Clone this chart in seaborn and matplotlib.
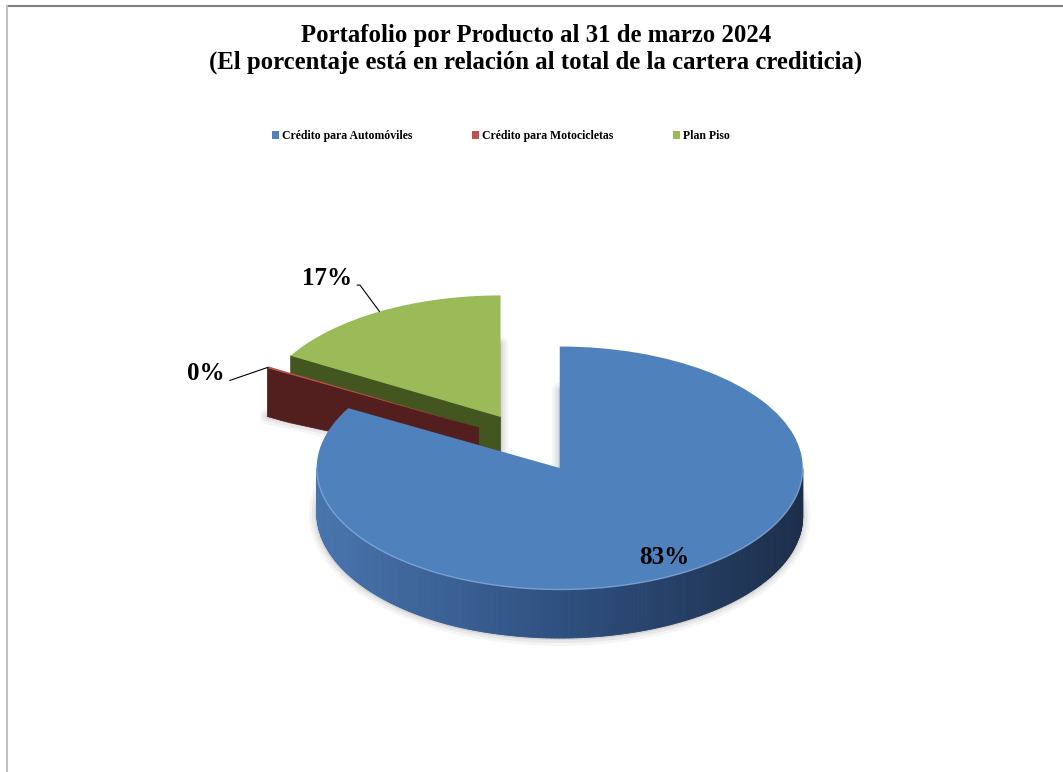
import numpy as np
import matplotlib.pyplot as plt
from matplotlib.patches import Polygon, Patch
from matplotlib.lines import Line2D
import seaborn as sns

# Data
categorias = ['Crédito para Automóviles', 'Crédito para Motocicletas', 'Plan Piso']
porcentajes = [83.2, 0.2, 16.6]
etiquetas = ['83%', '0%', '17%']

# Styles
colores_top = ['#4F81BD', '#C0504D', '#9BBB59']
colores_lado = ['#2E4D75', '#521E1E', '#44561F']
gradiente_lado = [['#4874AD', '#2F5080', '#1C2E4A'],
                  ['#7A2A28', '#5A2020', '#3E1414'],
                  ['#61792F', '#4A5D22', '#323F16']]

sns.set_theme(style='white')
plt.rcParams['font.family'] = ['Liberation Serif', 'DejaVu Serif']
plt.rcParams['font.weight'] = 'bold'
plt.rcParams['text.color'] = 'black'

W, H = 1063, 772
fig = plt.figure(figsize=(W / 100, H / 100), dpi=100)
fig.patch.set_facecolor('white')

# pie axes over the whole figure; 1 unit = 243 px across, 121.5 px down (tilted view)
ax = fig.add_axes([0, 0, 1, 1])
cx_px, cy_px = 530, 442.5
sx, sy = 243.0, 121.5

wedges, _ = ax.pie(porcentajes, colors=colores_top, startangle=90, counterclock=False,
                   explode=[0.243] * len(porcentajes), radius=1,
                   wedgeprops=dict(linewidth=0))
ax.set_aspect('auto')
ax.set_xlim(-cx_px / sx, (W - cx_px) / sx)
ax.set_ylim(-(H - cy_px) / sy, cy_px / sy)
ax.axis('off')


def prof(x, y):
    # slab thickness: thinner near the middle, thicker at the rim (perspective look)
    d = np.clip(np.hypot(x, y) / 1.15, 0, 1)
    return 0.27 + 0.13 * d


def arco(c, r, a0, a1, n=120):
    a = np.radians(np.linspace(a0, a1, max(n, 2)))
    return c[0] + r * np.cos(a), c[1] + r * np.sin(a)


def tramos_visibles(t1, t2):
    out = []
    for k in range(-2, 3):
        a, b = max(t1, 180 + 360 * k), min(t2, 360 + 360 * k)
        if b > a:
            out.append((a, b))
    return out


# back to front ordering by bisector
bis = [np.radians((w.theta1 + w.theta2) / 2) for w in wedges]
orden = sorted(range(len(wedges)), key=lambda i: -np.sin(bis[i]))

# soft shadow of the bottom faces
for w in wedges:
    xs, ys = arco(w.center, w.r, w.theta1, w.theta2, 200)
    px = np.r_[w.center[0], xs]
    py = np.r_[w.center[1], ys]
    pts = np.c_[px, py - prof(px, py)]
    for lw, al in [(11, 0.06), (7, 0.08), (3, 0.12)]:
        ax.add_patch(Polygon(pts, closed=True, fc='0.35', ec='0.35', lw=lw, alpha=al,
                             zorder=1, joinstyle='round'))

for rank, i in enumerate(orden):
    w = wedges[i]
    c, r = w.center, w.r
    z = 2 + 2 * rank
    # curved outer side, shaded left (light) to right (dark)
    pal = sns.blend_palette(gradiente_lado[i], n_colors=101)
    for a, b in tramos_visibles(w.theta1, w.theta2):
        n = int(np.ceil(b - a)) + 1
        ang = np.linspace(a, b, n)
        for k in range(n - 1):
            xs, ys = arco(c, r, ang[k], ang[k + 1], 2)
            quad = np.c_[np.r_[xs, xs[::-1]], np.r_[ys, (ys - prof(xs, ys))[::-1]]]
            m = np.radians((ang[k] + ang[k + 1]) / 2)
            col = pal[int(round((np.cos(m) + 1) / 2 * 100))]
            ax.add_patch(Polygon(quad, closed=True, fc=col, ec=col, lw=0.6, zorder=z))
        hx, hy = arco(c, r, a, b, 200)
        ax.plot(hx, hy, color='#86AADB', lw=1.0, alpha=0.8, zorder=z + 1.5)
    # radial faces facing the viewer
    for t, vis in [(w.theta2, np.cos(np.radians(w.theta2)) < -1e-6),
                   (w.theta1, np.cos(np.radians(w.theta1)) > 1e-6)]:
        if not vis:
            continue
        s = np.linspace(0, r, 30)
        rx = c[0] + s * np.cos(np.radians(t))
        ry = c[1] + s * np.sin(np.radians(t))
        cara = np.c_[np.r_[rx, rx[::-1]], np.r_[ry, (ry - prof(rx, ry))[::-1]]]
        ax.add_patch(Polygon(cara, closed=True, fc=colores_lado[i], ec=colores_lado[i],
                             lw=0.5, zorder=z))
    w.set_zorder(z + 1)

# data labels
for i, w in enumerate(wedges):
    b = bis[i]
    if porcentajes[i] > 50:
        ax.text(w.center[0] + 0.85 * np.cos(b), w.center[1] + 0.85 * np.sin(b), etiquetas[i],
                ha='center', va='center', fontsize=18, fontweight='bold', zorder=20)

ext = {1: ((-31, -9.5), 19), 2: ((-19.5, 19), 126.5)}
for i, (off, angb) in ext.items():
    w = wedges[i]
    b = bis[i]
    xy = (w.center[0] + w.r * np.cos(b), w.center[1] + w.r * np.sin(b))
    ax.annotate(etiquetas[i], xy=xy, xytext=off, textcoords='offset points',
                ha='right', va='baseline', fontsize=18, fontweight='bold', zorder=20,
                arrowprops=dict(arrowstyle='-', color='black', lw=0.8, shrinkA=1, shrinkB=0,
                                relpos=(1.0, 0.22),
                                connectionstyle=f'angle,angleA=0,angleB={angb},rad=0'))

# title
fig.text(536 / W, 1 - 49 / H,
         'Portafolio por Producto al 31 de marzo 2024\n'
         '(El porcentaje está en relación al total de la cartera crediticia)',
         ha='center', va='center', fontsize=17.8, fontweight='bold', linespacing=1.2)

# legend
handles = [Patch(facecolor=col, edgecolor='none') for col in colores_top]
fig.legend(handles, categorias, loc='center', bbox_to_anchor=(501 / W, 1 - 136 / H),
           ncol=3, frameon=False, fontsize=8.5, handlelength=0.6, handleheight=0.6,
           handletextpad=0.2, columnspacing=5.1, borderpad=0)

# chart area border (top and left edges visible)
fig.add_artist(Line2D([7 / W, 1.0], [1 - 6 / H, 1 - 6 / H], transform=fig.transFigure,
                      color='#808080', lw=1.5))
fig.add_artist(Line2D([7 / W, 7 / W], [0.0, 1 - 6 / H], transform=fig.transFigure,
                      color='#C0C0C0', lw=1.5))

fig.savefig('out.png', dpi=100, facecolor='white')
